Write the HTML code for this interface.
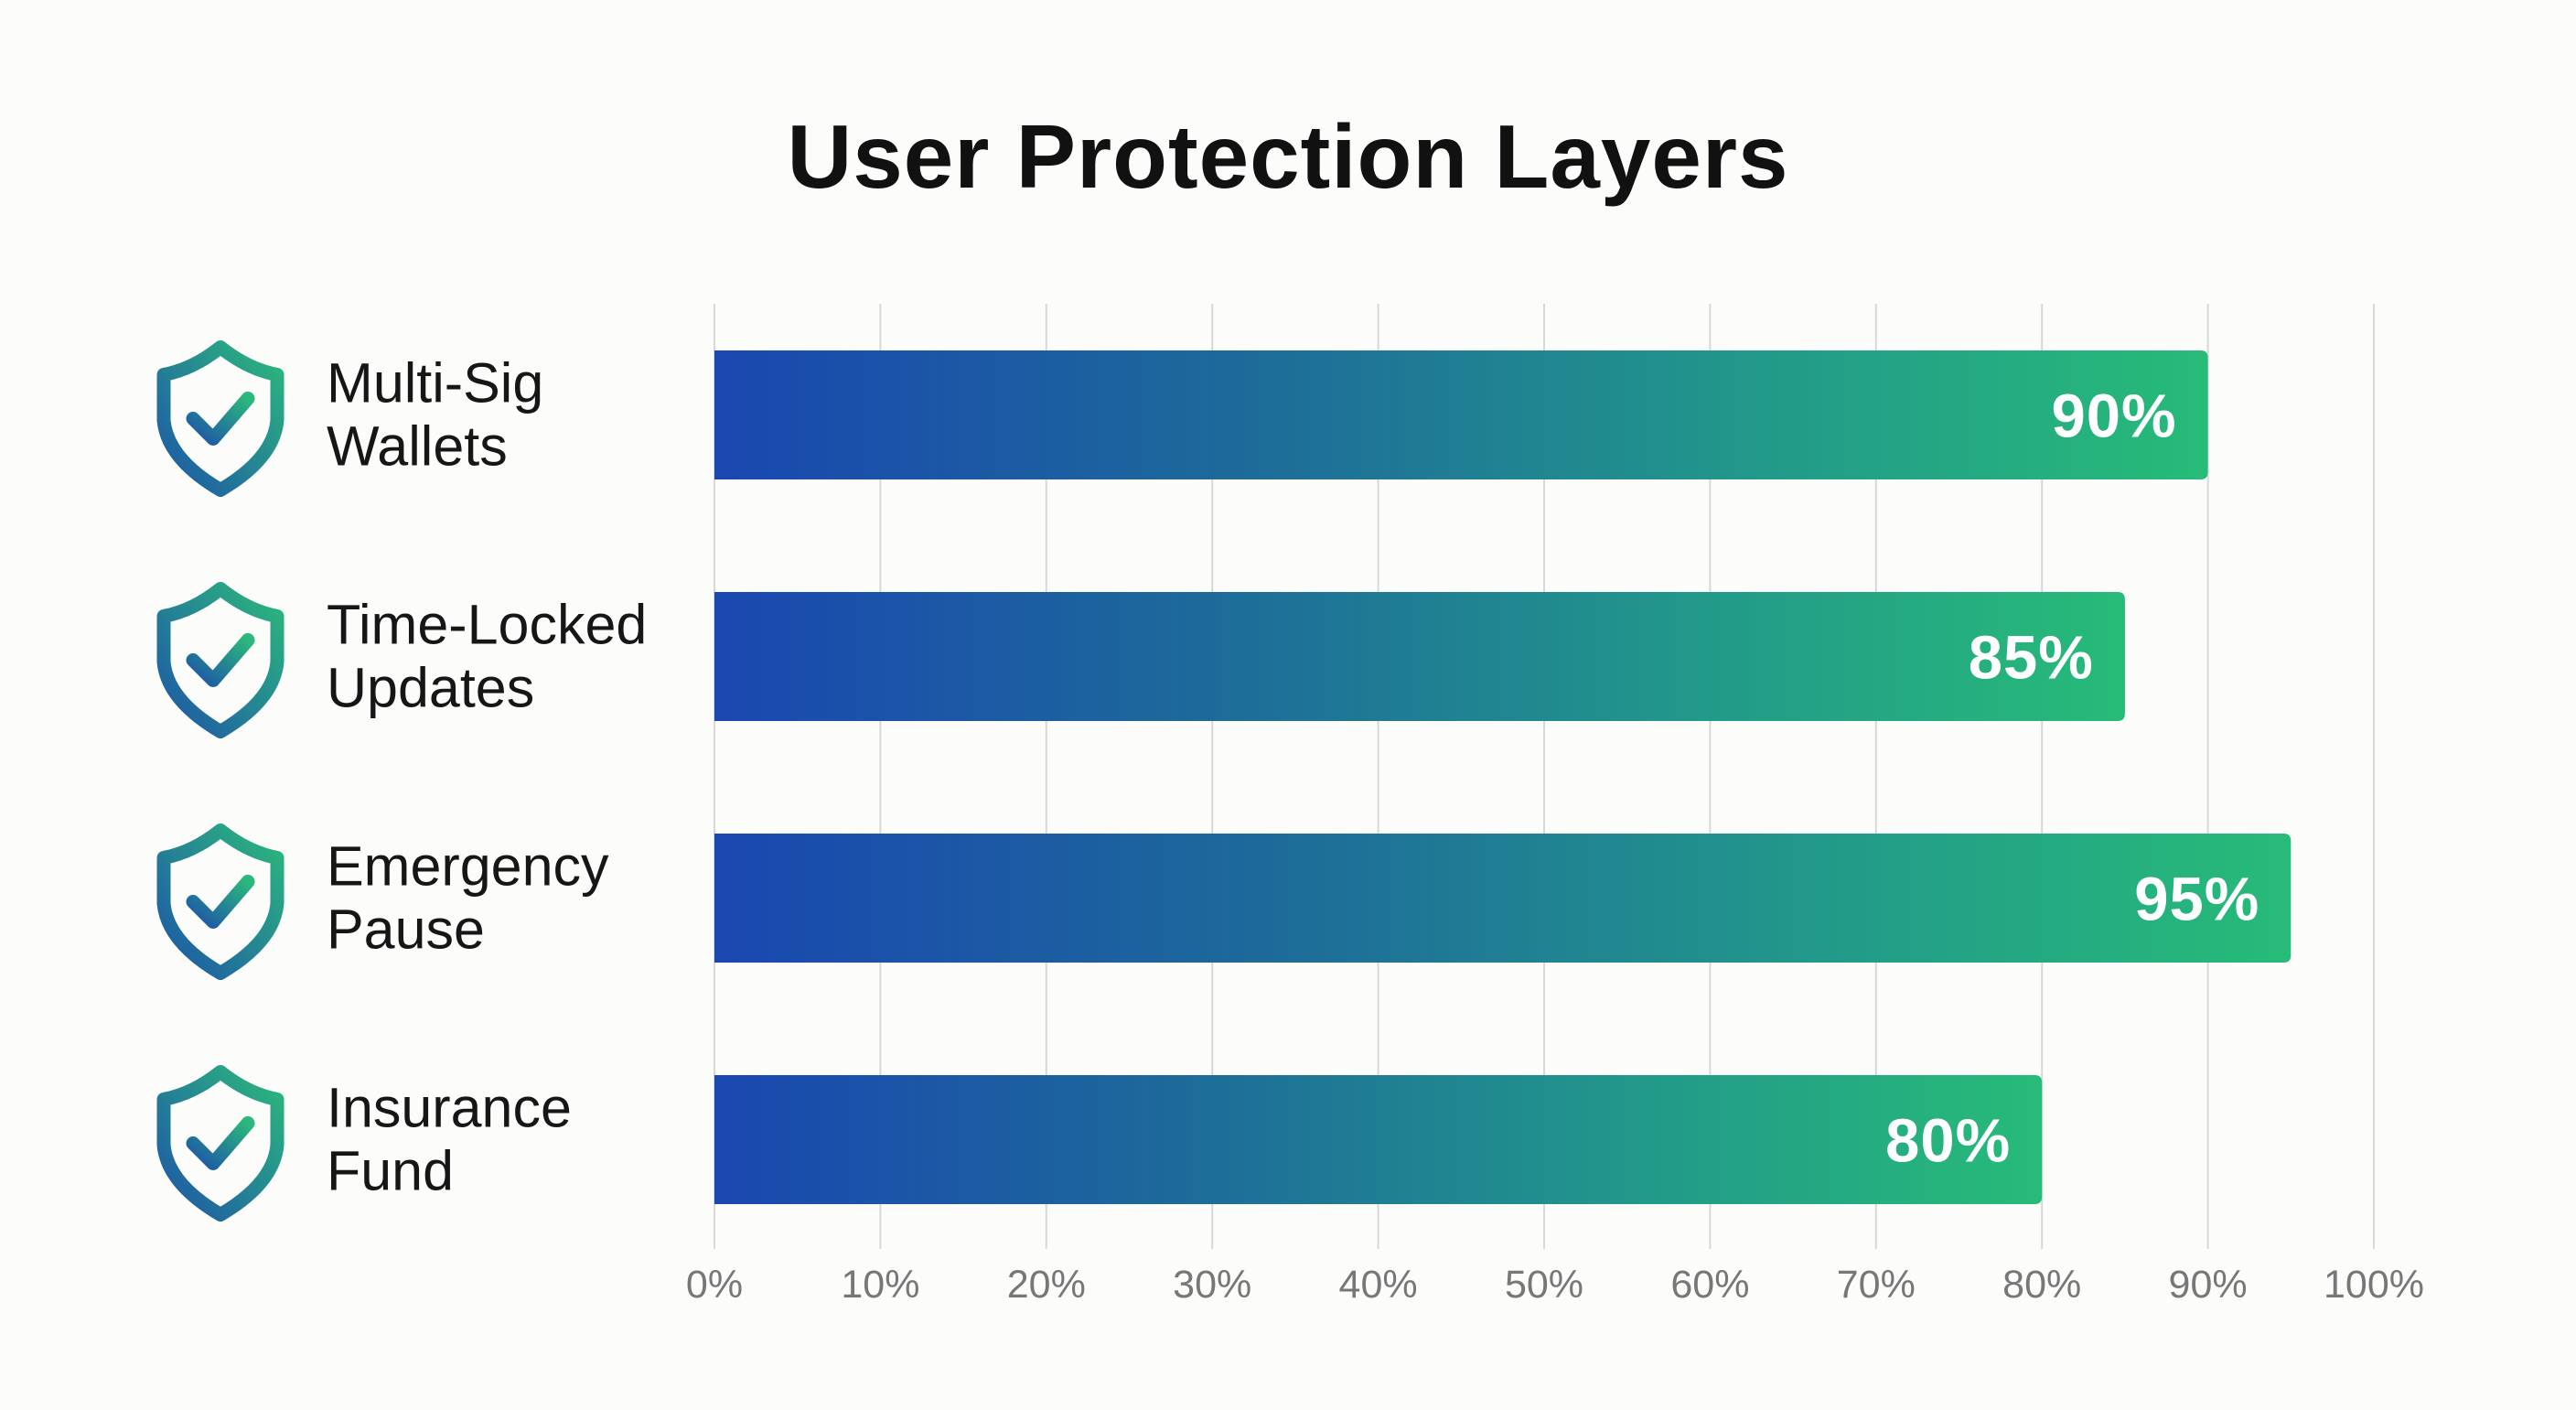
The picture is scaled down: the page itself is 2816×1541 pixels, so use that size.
<!DOCTYPE html>
<html><head><meta charset="utf-8"><style>
html,body{margin:0;padding:0;background:#fcfcfb;}
body{width:2816px;height:1536px;overflow:hidden;font-family:"Liberation Sans",sans-serif;}
</style></head><body>
<svg id="chart" width="2816" height="1536" viewBox="0 0 2816 1536" xmlns="http://www.w3.org/2000/svg">
<defs>
<linearGradient id="barGrad" gradientUnits="objectBoundingBox" x1="0" y1="0" x2="1" y2="0">
<stop offset="0" stop-color="#1a47b0"/><stop offset="0.35" stop-color="#1d6a9a"/><stop offset="0.7" stop-color="#22998a"/><stop offset="1" stop-color="#27bb78"/>
</linearGradient>
<linearGradient id="shieldGrad" x1="0" y1="1" x2="1" y2="0">
<stop offset="0" stop-color="#1d55a8"/><stop offset="1" stop-color="#2cb87c"/>
</linearGradient>
</defs>
<text x="1408" y="205" text-anchor="middle" font-size="98" font-weight="bold" letter-spacing="1" fill="#111">User Protection Layers</text>
<g id="grid"></g>
<g id="bars"></g>
<g id="labels"></g>
<g id="ticks"></g>
</svg>
<script>
const categories = [["Multi-Sig","Wallets"],["Time-Locked","Updates"],["Emergency","Pause"],["Insurance","Fund"]];
const values = [90,85,95,80];
const tickValues = [0,10,20,30,40,50,60,70,80,90,100];
const tickLabels = ["0%","10%","20%","30%","40%","50%","60%","70%","80%","90%","100%"];

const NS="http://www.w3.org/2000/svg";
const x0=781, x1=2595;
function xScale(v){return x0+(x1-x0)*v/100;}
const barTop0=383, barH=141, pitch=264;
function yBand(i){return barTop0+i*pitch;}
function mk(tag,attrs,parent){const e=document.createElementNS(NS,tag);for(const k in attrs)e.setAttribute(k,attrs[k]);parent.appendChild(e);return e;}
const grid=document.getElementById('grid'),bars=document.getElementById('bars'),labels=document.getElementById('labels'),ticks=document.getElementById('ticks');

tickValues.forEach((t,i)=>{
  const x=xScale(t);
  const l=mk('line',{x1:x,x2:x,y1:332,y2:1365,stroke:'#d8d8d8','stroke-width':2},grid);
  
  
  const tx=mk('text',{x:x,y:1418,'text-anchor':'middle','font-size':43,fill:'#777'},ticks);
  tx.textContent=tickLabels[i];
  
  
});

values.forEach((v,i)=>{
  const y=yBand(i), xe=xScale(v);
  const r=mk('path',{d:`M${x0},${y} H${xe-8} Q${xe},${y} ${xe},${y+8} V${y+barH-8} Q${xe},${y+barH} ${xe-8},${y+barH} H${x0} Z`,fill:'url(#barGrad)'},bars);
  
  
  const t=mk('text',{x:xe-34,y:y+barH/2+24,'text-anchor':'end','font-size':67,'font-weight':'bold','letter-spacing':1,fill:'#fff'},bars);
  t.textContent=v+'%';
  
  

  const cy=y+barH/2;
  const g=mk('g',{transform:`translate(241,${cy-2})`},labels);
  
  
  mk('path',{d:'M0,-72 Q-30,-48 -62,-42 L-62,8 Q-58,50 0,84 Q58,50 62,8 L62,-42 Q30,-48 0,-72 Z',fill:'none',stroke:'url(#shieldGrad)','stroke-width':15,'stroke-linejoin':'round'},g);
  mk('path',{d:'M-30,6 L-8,28 L30,-16',fill:'none',stroke:'url(#shieldGrad)','stroke-width':15,'stroke-linecap':'round','stroke-linejoin':'round'},g);
  const lt=mk('text',{x:357,y:cy-14,'font-size':61,fill:'#161616'},labels);
  
  
  categories[i].forEach((s,j)=>{const ts=mk('tspan',{x:357,dy:j?69:0},lt);ts.textContent=s;});
});
</script>
</body></html>
